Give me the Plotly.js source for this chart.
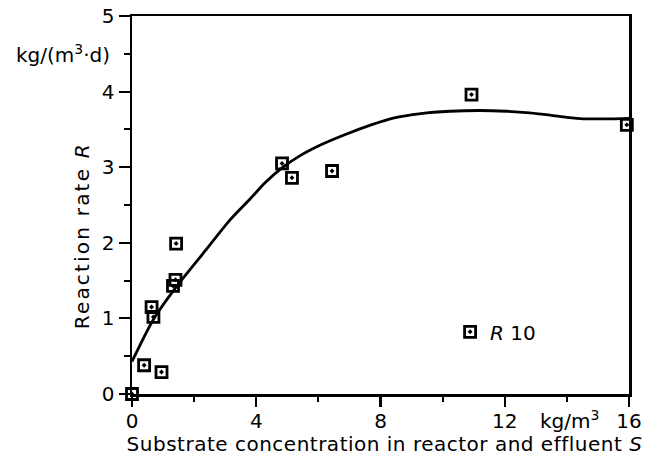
<!DOCTYPE html>
<html>
<head>
<meta charset="utf-8">
<script src="https://cdn.plot.ly/plotly-3.0.1.min.js"></script>
<style>
html, body { margin: 0; padding: 0; background: #fff; }
#chart { width: 646px; height: 462px; }
.annotation[data-index="0"] text { letter-spacing: 0.5px; }
.annotation[data-index="1"] text { letter-spacing: 2.2px; }
</style>
</head>
<body>
<div id="chart"></div>
<script>
// Measured points (substrate concentration S, kg/m3 ; reaction rate R, kg/(m3·d))
const S_points = [0, 0.39, 0.95, 0.63, 0.69, 1.40, 1.32, 1.42, 4.83, 5.15, 6.44, 10.93, 15.93];
const R_points = [0, 0.38, 0.29, 1.15, 1.02, 1.51, 1.43, 1.99, 3.05, 2.86, 2.95, 3.96, 3.56];
// Fitted curve
const S_curve = [0, 0.68, 1.43, 2.29, 3.15, 3.80, 4.30, 4.86, 5.40, 6.10, 6.91, 7.70, 8.41, 9.30, 10.24, 11.20, 12.06, 12.80, 13.46, 14.00, 14.53, 15.40, 16.36];
const R_curve = [0.43, 0.98, 1.42, 1.86, 2.30, 2.58, 2.80, 3.00, 3.15, 3.30, 3.44, 3.56, 3.65, 3.71, 3.74, 3.75, 3.74, 3.72, 3.69, 3.66, 3.64, 3.64, 3.65];
const xTickVals = [0, 4, 8, 12, 16];
const xTickText = ['0', '4', '8', '12', '16'];
const yTickVals = [0, 1, 2, 3, 4, 5];
const yTickText = ['0', '1', '2', '3', '4', '5'];
const seriesName = '<i>R</i> 10';

const FONT = 'DejaVu Sans, Liberation Sans, sans-serif';

const traces = [
  {
    x: S_curve, y: R_curve, type: 'scatter', mode: 'lines',
    line: { color: '#000', width: 2.8, shape: 'spline', smoothing: 0.7 },
    showlegend: false, hoverinfo: 'skip'
  },
  {
    x: S_points, y: R_points, type: 'scatter', mode: 'markers', name: seriesName,
    marker: { symbol: 'square-open-dot', size: 11, color: '#000', line: { width: 2.8, color: '#000' } },
    cliponaxis: false
  }
];

const layout = {
  width: 646, height: 462,
  margin: { l: 132, r: 17, t: 16, b: 68 },
  paper_bgcolor: '#fff', plot_bgcolor: '#fff',
  font: { family: FONT, size: 20, color: '#000' },
  showlegend: true,
  legend: {
    x: 0.64, y: 0.216, xanchor: 'left', yanchor: 'top',
    bgcolor: 'rgba(0,0,0,0)', borderwidth: 0,
    font: { family: FONT, size: 20, color: '#000' }
  },
  xaxis: {
    range: [0, 16], showgrid: false, zeroline: false,
    showline: true, linecolor: '#000', linewidth: 2.5, mirror: true,
    ticks: 'outside', ticklen: 10, tickwidth: 2.2, tickcolor: '#000',
    ticklabelstandoff: -3,
    tickvals: xTickVals, ticktext: xTickText,
    tickfont: { family: FONT, size: 20, color: '#000' },
    minor: { dtick: 2, ticks: 'outside', ticklen: 5, tickwidth: 2, tickcolor: '#000', showgrid: false }
  },
  yaxis: {
    range: [0, 5], showgrid: false, zeroline: false,
    showline: true, linecolor: '#000', linewidth: 2.5, mirror: true,
    ticks: 'outside', ticklen: 11, tickwidth: 2.2, tickcolor: '#000',
    tickvals: yTickVals, ticktext: yTickText,
    tickfont: { family: FONT, size: 20, color: '#000' },
    minor: { dtick: 0.5, ticks: 'outside', ticklen: 6, tickwidth: 2, tickcolor: '#000', showgrid: false }
  },
  annotations: [
    { text: 'Substrate concentration in reactor and effluent <i>S</i>', xref: 'paper', yref: 'paper',
      x: 0.509, y: -0.132, xanchor: 'center', yanchor: 'middle', showarrow: false,
      font: { family: FONT, size: 20, color: '#000' } },
    { text: 'Reaction rate <i>R</i>', xref: 'paper', yref: 'paper', textangle: -90,
      x: -0.101, y: 0.418, xanchor: 'center', yanchor: 'middle', showarrow: false,
      font: { family: FONT, size: 20, color: '#000' } },
    { text: 'kg/(m<sup>3</sup>·d)', xref: 'paper', yref: 'y',
      x: -0.04, y: 4.5, xanchor: 'right', yanchor: 'middle', showarrow: false,
      font: { family: FONT, size: 20, color: '#000' } },
    { text: 'kg/m<sup>3</sup>', xref: 'x', yref: 'paper',
      x: 14.1, y: -0.07, xanchor: 'center', yanchor: 'middle', showarrow: false,
      font: { family: FONT, size: 20, color: '#000' } }
  ]
};

Plotly.newPlot('chart', traces, layout, { displayModeBar: false, staticPlot: true });
</script>
</body>
</html>
